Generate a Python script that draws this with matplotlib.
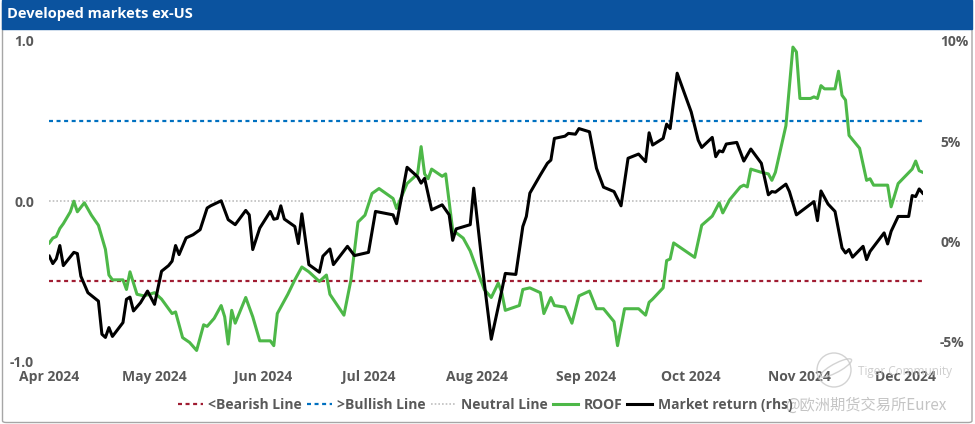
import pandas as pd
import matplotlib
matplotlib.use("Agg")
from matplotlib import pyplot as plt
import matplotlib.dates as mdates
from matplotlib.patches import Rectangle, FancyBboxPatch, Ellipse
from matplotlib.lines import Line2D

plt.rcParams['font.family'] = ['Open Sans', 'DejaVu Sans']

title = "Developed markets ex-US"

# ROOF indicator (left axis)
roof_dates = [
    "2024-04-01", "2024-04-02", "2024-04-03", "2024-04-04", "2024-04-05", "2024-04-07",
    "2024-04-08", "2024-04-09", "2024-04-11", "2024-04-13", "2024-04-15", "2024-04-17",
    "2024-04-18", "2024-04-19", "2024-04-22", "2024-04-23", "2024-04-24", "2024-04-25",
    "2024-04-26", "2024-04-28", "2024-05-01", "2024-05-03", "2024-05-06", "2024-05-07",
    "2024-05-09", "2024-05-11", "2024-05-13", "2024-05-15", "2024-05-16", "2024-05-18",
    "2024-05-20", "2024-05-21", "2024-05-22", "2024-05-23", "2024-05-24", "2024-05-27",
    "2024-05-29", "2024-05-31", "2024-06-03", "2024-06-04", "2024-06-05", "2024-06-08",
    "2024-06-10", "2024-06-12", "2024-06-14", "2024-06-17", "2024-06-19", "2024-06-20",
    "2024-06-24", "2024-06-26", "2024-06-28", "2024-06-30", "2024-07-02", "2024-07-04",
    "2024-07-08", "2024-07-09", "2024-07-12", "2024-07-15", "2024-07-16", "2024-07-17",
    "2024-07-18", "2024-07-19", "2024-07-22", "2024-07-23", "2024-07-25", "2024-07-28",
    "2024-07-30", "2024-08-03", "2024-08-05", "2024-08-07", "2024-08-08", "2024-08-09",
    "2024-08-13", "2024-08-14", "2024-08-16", "2024-08-19", "2024-08-20", "2024-08-22",
    "2024-08-23", "2024-08-26", "2024-08-28", "2024-08-30", "2024-09-02", "2024-09-04",
    "2024-09-06", "2024-09-09", "2024-09-10", "2024-09-12", "2024-09-16", "2024-09-18",
    "2024-09-19", "2024-09-20", "2024-09-23", "2024-09-24", "2024-09-25", "2024-09-26",
    "2024-10-02", "2024-10-04", "2024-10-07", "2024-10-09", "2024-10-10", "2024-10-12",
    "2024-10-15", "2024-10-16", "2024-10-17", "2024-10-18", "2024-10-21", "2024-10-23",
    "2024-10-24", "2024-10-25", "2024-10-28", "2024-10-30", "2024-10-31", "2024-11-01",
    "2024-11-04", "2024-11-05", "2024-11-06", "2024-11-07", "2024-11-08", "2024-11-11",
    "2024-11-12", "2024-11-13", "2024-11-14", "2024-11-15", "2024-11-18", "2024-11-20",
    "2024-11-21", "2024-11-22", "2024-11-26", "2024-11-27", "2024-11-29", "2024-12-03",
    "2024-12-04", "2024-12-05", "2024-12-06",
]
roof = [
    -0.26, -0.23, -0.22, -0.17, -0.14, -0.066,
    0.0, -0.066, -0.01, -0.087, -0.15, -0.30,
    -0.46, -0.49, -0.49, -0.55, -0.44, -0.51,
    -0.58, -0.59, -0.57, -0.61, -0.70, -0.69,
    -0.85, -0.88, -0.93, -0.77, -0.78, -0.73,
    -0.65, -0.72, -0.89, -0.68, -0.76, -0.60,
    -0.72, -0.87, -0.87, -0.90, -0.70, -0.58,
    -0.49, -0.41, -0.44, -0.50, -0.46, -0.58,
    -0.71, -0.49, -0.13, -0.087, 0.048, 0.079,
    0.017, -0.045, 0.11, 0.17, 0.34, 0.17,
    0.14, 0.20, 0.155, 0.17, -0.18, -0.23,
    -0.31, -0.55, -0.60, -0.51, -0.57, -0.68,
    -0.65, -0.55, -0.54, -0.57, -0.70, -0.60,
    -0.65, -0.66, -0.76, -0.59, -0.56, -0.67,
    -0.67, -0.75, -0.90, -0.67, -0.67, -0.71,
    -0.63, -0.61, -0.54, -0.37, -0.36, -0.26,
    -0.35, -0.15, -0.093, -0.01, -0.073, 0.01,
    0.089, 0.10, 0.089, 0.20, 0.18, 0.17,
    0.13, 0.18, 0.47, 0.96, 0.93, 0.64,
    0.64, 0.65, 0.64, 0.72, 0.70, 0.70,
    0.81, 0.66, 0.63, 0.41, 0.33, 0.13,
    0.14, 0.10, 0.10, -0.035, 0.11, 0.20,
    0.25, 0.19, 0.18,
]

# Market return in % (right axis)
mkt_dates = [
    "2024-04-01", "2024-04-02", "2024-04-03", "2024-04-04", "2024-04-05", "2024-04-06",
    "2024-04-08", "2024-04-09", "2024-04-10", "2024-04-12", "2024-04-15", "2024-04-16",
    "2024-04-17", "2024-04-18", "2024-04-19", "2024-04-22", "2024-04-23", "2024-04-24",
    "2024-04-25", "2024-04-27", "2024-04-29", "2024-05-01", "2024-05-03", "2024-05-05",
    "2024-05-06", "2024-05-07", "2024-05-08", "2024-05-10", "2024-05-12", "2024-05-14",
    "2024-05-16", "2024-05-17", "2024-05-20", "2024-05-22", "2024-05-24", "2024-05-27",
    "2024-05-28", "2024-05-29", "2024-05-31", "2024-06-03", "2024-06-04", "2024-06-05",
    "2024-06-06", "2024-06-07", "2024-06-10", "2024-06-11", "2024-06-12", "2024-06-14",
    "2024-06-17", "2024-06-18", "2024-06-20", "2024-06-21", "2024-06-25", "2024-06-27",
    "2024-07-01", "2024-07-03", "2024-07-08", "2024-07-09", "2024-07-12", "2024-07-15",
    "2024-07-16", "2024-07-17", "2024-07-19", "2024-07-22", "2024-07-24", "2024-07-25",
    "2024-07-26", "2024-07-30", "2024-07-31", "2024-08-03", "2024-08-05", "2024-08-08",
    "2024-08-09", "2024-08-12", "2024-08-14", "2024-08-15", "2024-08-16", "2024-08-19",
    "2024-08-21", "2024-08-22", "2024-08-23", "2024-08-26", "2024-08-27", "2024-08-29",
    "2024-08-30", "2024-09-02", "2024-09-04", "2024-09-06", "2024-09-09", "2024-09-11",
    "2024-09-13", "2024-09-16", "2024-09-18", "2024-09-19", "2024-09-20", "2024-09-23",
    "2024-09-24", "2024-09-25", "2024-09-27", "2024-10-01", "2024-10-03", "2024-10-04",
    "2024-10-07", "2024-10-08", "2024-10-09", "2024-10-10", "2024-10-11", "2024-10-14",
    "2024-10-16", "2024-10-18", "2024-10-21", "2024-10-23", "2024-10-24", "2024-10-25",
    "2024-10-28", "2024-10-29", "2024-10-31", "2024-11-05", "2024-11-06", "2024-11-07",
    "2024-11-09", "2024-11-11", "2024-11-13", "2024-11-14", "2024-11-15", "2024-11-16",
    "2024-11-19", "2024-11-20", "2024-11-21", "2024-11-25", "2024-11-26", "2024-11-27",
    "2024-11-29", "2024-12-02", "2024-12-03", "2024-12-04", "2024-12-05", "2024-12-06",
]
mkt = [
    -0.74, -1.11, -0.87, -0.21, -1.21, -0.99,
    -0.55, -0.61, -1.74, -2.56, -2.98, -4.63,
    -4.79, -4.30, -4.74, -4.05, -2.89, -2.78,
    -3.47, -3.06, -2.48, -3.14, -1.49, -1.21,
    -0.99, -0.21, -0.66, 0.17, 0.33, 0.58,
    1.66, 1.77, 2.02, 1.08, 0.83, 1.54,
    1.32, -0.41, 0.66, 1.49, 1.10, 1.14,
    1.77, 1.11, 0.74, -0.11, 1.37, -1.16,
    -1.54, -0.74, -0.38, -1.16, -0.25, -0.71,
    -0.55, 1.49, 1.32, 0.88, 3.69, 3.22,
    2.90, 3.14, 1.57, 1.82, 1.32, 0.05,
    0.62, 0.83, 2.65, -2.06, -4.88, -2.45,
    -1.60, -1.65, 0.74, 1.24, 2.40, 3.31,
    3.89, 4.05, 5.13, 5.24, 5.38, 5.34,
    5.62, 5.46, 3.64, 2.70, 2.48, 1.77,
    4.14, 4.35, 3.97, 5.41, 4.80, 5.13,
    5.84, 5.62, 8.38, 6.45, 5.04, 4.68,
    5.18, 4.22, 4.51, 4.46, 4.85, 4.93,
    4.00, 4.60, 3.89, 2.32, 2.48, 2.45,
    2.85, 2.48, 1.32, 1.98, 1.03, 2.51,
    1.86, 1.49, -0.33, -0.58, -0.41, -0.79,
    -0.25, -0.91, -0.50, 0.42, -0.13, 0.50,
    1.24, 1.24, 2.28, 2.23, 2.61, 2.40,
]

bearish, bullish, neutral = -0.5, 0.5, 0.0
month_ticks = pd.date_range("2024-04-01", "2024-12-01", freq="MS")
left_ticks = [-1.0, 0.0, 1.0]
right_ticks = [-5, 0, 5, 10]

roof_x = pd.to_datetime(roof_dates)
mkt_x = pd.to_datetime(mkt_dates)

W, H = 975, 424
fig = plt.figure(figsize=(W / 100, H / 100), dpi=100)

# frame + title bar
fig.patches.append(FancyBboxPatch((2.5 / W, 1.5 / H), 969.5 / W, 421 / H,
                                  boxstyle="round,pad=0,rounding_size=0.004",
                                  transform=fig.transFigure, fill=False,
                                  edgecolor="#A6A6A6", linewidth=1.0))
fig.patches.append(Rectangle((2 / W, 1 - 28.5 / H), 970 / W, 28.5 / H,
                             transform=fig.transFigure, color="#0B539F", zorder=2))
fig.text(7 / W, 1 - 14 / H, title, color="white", fontsize=10.5, fontweight="bold",
         va="center", ha="left")

ax = fig.add_axes([49.3 / W, 1 - 361.7 / H, 873.4 / W, 321 / H])
ax2 = ax.twinx()

grey = "#595959"
x0, x1 = roof_x[0], roof_x[-1]
ax.hlines(bearish, x0, x1, colors="#A01C32", linewidth=1.6, linestyles=(0, (1.8, 1.6)))
ax.hlines(bullish, x0, x1, colors="#0070C0", linewidth=1.6, linestyles=(0, (1.8, 1.6)))
ax.hlines(neutral, x0, x1, colors="#BFBFBF", linewidth=1.2, linestyles=(0, (1, 1.2)))
ax.plot(roof_x, roof, color="#4DB848", linewidth=2.2, solid_joinstyle="round")
ax2.plot(mkt_x, mkt, color="black", linewidth=2.2, solid_joinstyle="round")

ax.set_xlim(x0, x1)
ax.set_ylim(-1, 1)
ax2.set_ylim(-6, 10)
ax.set_yticks(left_ticks)
ax.set_yticklabels([f"{v:.1f}" for v in left_ticks])
ax2.set_yticks(right_ticks)
ax2.set_yticklabels([f"{v}%" for v in right_ticks])
ax.set_xticks(month_ticks)
ax.xaxis.set_major_formatter(mdates.DateFormatter("%b %Y"))

for a in (ax, ax2):
    for s in a.spines.values():
        s.set_visible(False)
    a.tick_params(length=0, labelsize=10, labelcolor=grey)
    for lab in a.get_xticklabels() + a.get_yticklabels():
        lab.set_fontweight("bold")
ax.tick_params(axis="y", pad=11)
ax2.tick_params(axis="y", pad=12.5)
ax.tick_params(axis="x", pad=6)

handles = [
    Line2D([], [], color="#A01C32", linewidth=1.6, linestyle=(0, (1.8, 1.6))),
    Line2D([], [], color="#0070C0", linewidth=1.6, linestyle=(0, (1.8, 1.6))),
    Line2D([], [], color="#BFBFBF", linewidth=1.2, linestyle=(0, (1, 1.2))),
    Line2D([], [], color="#4DB848", linewidth=2.2),
    Line2D([], [], color="black", linewidth=2.2),
]
labels = ["<Bearish Line", ">Bullish Line", "Neutral Line", "ROOF", "Market return (rhs)"]
leg = fig.legend(handles, labels, loc="center", bbox_to_anchor=(485 / W, 1 - 405 / H),
                 ncol=5, frameon=False, fontsize=10, handlelength=1.8,
                 handletextpad=0.4, columnspacing=0.35)
for t in leg.get_texts():
    t.set_color(grey)
    t.set_fontweight("bold")

# watermark
fig.patches.append(Ellipse((834 / W, 1 - 370 / H), 34 / W, 34 / H, transform=fig.transFigure,
                           fill=False, edgecolor="#C8C8C8", linewidth=1.0, alpha=0.8))
fig.patches.append(Ellipse((836 / W, 1 - 368 / H), 14 / W, 22 / H, angle=-35,
                           transform=fig.transFigure, fill=False,
                           edgecolor="#C8C8C8", linewidth=1.0, alpha=0.8))
fig.text(858 / W, 1 - 372 / H, "Tiger Community", color="#C8C8C8", fontsize=8.5,
         va="center", ha="left", alpha=0.9)
fig.text(785 / W, 1 - 405 / H, "@欧洲期货交易所Eurex", color="#BEBEBE", fontsize=11,
         va="center", ha="left", family=["Noto Sans CJK SC", "DejaVu Sans"], alpha=0.9)

fig.savefig("out.png", dpi=100)
